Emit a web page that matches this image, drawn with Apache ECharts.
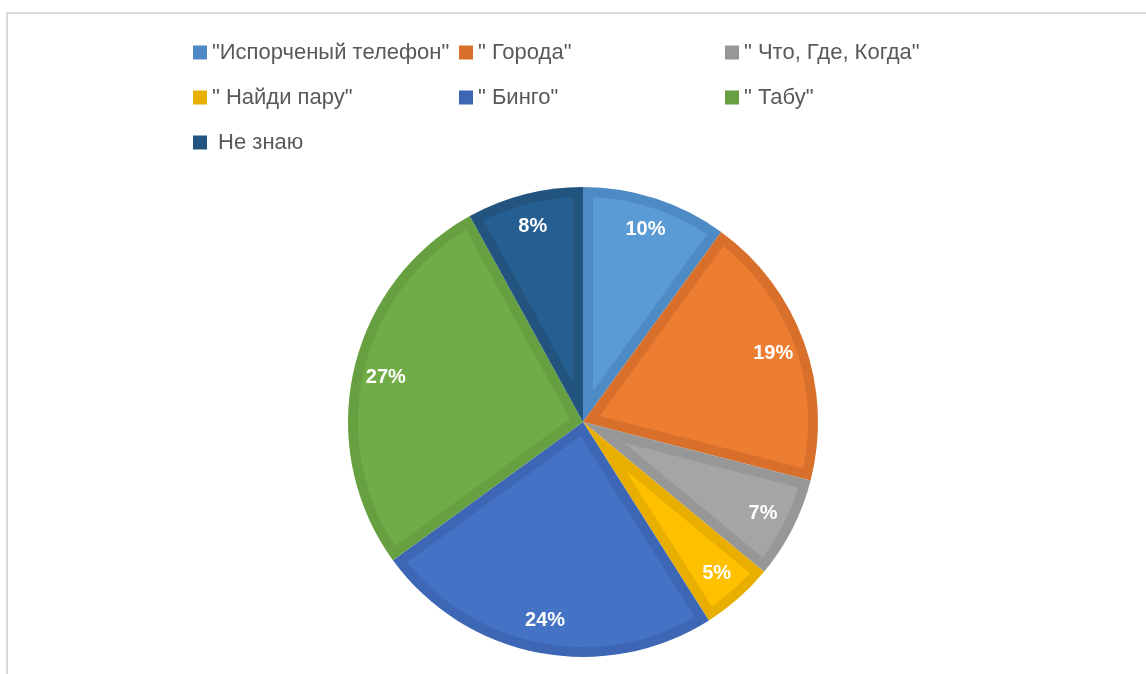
<!DOCTYPE html>
<html>
<head>
<meta charset="utf-8">
<script src="https://cdn.jsdelivr.net/npm/echarts@6/dist/echarts.min.js"></script>
<style>
  html, body { margin: 0; padding: 0; background: #ffffff; }
  #frame { position: absolute; left: 6px; top: 12px; width: 1200px; height: 700px;
           border-left: 2px solid #d9d9d9; border-top: 2px solid #d9d9d9; }
  #chart { position: absolute; left: 0; top: 0; width: 1146px; height: 674px; }
</style>
</head>
<body>
<div id="frame"></div>
<div id="chart"></div>
<script>
// Survey answers: which game the class liked most
const categories = ['"Испорченый телефон"', '" Города"', '" Что, Где, Когда"', '" Найди пару"', '" Бинго"', '" Табу"', ' Не знаю'];
const shares = [10, 19, 7, 5, 24, 27, 8];
const fillColors = ['#5B9BD5', '#ED7D31', '#A5A5A5', '#FFC000', '#4472C4', '#70AD47', '#255E91'];
const edgeColors = ['#4E8AC3', '#D8702B', '#979797', '#E8AE00', '#3D67B4', '#66A040', '#22547F'];

const total = shares.reduce((a, b) => a + b, 0);
const spans = [];
let acc = 0;
shares.forEach((v, i) => { spans.push([acc, acc + v, 1, v, i]); acc += v; });

const BAND = 10; // width of the darker rim drawn inside each slice

function renderSlice(params, api) {
  const cs = params.coordSys;
  const cx = cs.cx, cy = cs.cy, R = cs.r;
  const i = api.value(4);
  const p0 = api.coord([1, api.value(0)]);
  const p1 = api.coord([1, api.value(1)]);
  let a0 = Math.atan2(p0[1] - cy, p0[0] - cx);
  let a1 = Math.atan2(p1[1] - cy, p1[0] - cx);
  while (a1 <= a0 + 1e-9) a1 += Math.PI * 2;
  const th = a1 - a0;
  const am = (a0 + a1) / 2;
  const d = BAND / Math.sin(th / 2);
  const rho = R - BAND;
  const da = Math.asin(BAND / rho);
  const pts = [[cx + d * Math.cos(am), cy + d * Math.sin(am)]];
  const n = 60;
  for (let k = 0; k <= n; k++) {
    const a = a0 + da + (th - 2 * da) * k / n;
    pts.push([cx + rho * Math.cos(a), cy + rho * Math.sin(a)]);
  }
  const lp = api.coord([0.86, (api.value(0) + api.value(1)) / 2]);
  return {
    type: 'group',
    children: [
      { type: 'polygon', shape: { points: pts }, style: { fill: fillColors[i] } },
      { type: 'text', x: lp[0], y: lp[1],
        style: { text: Math.round(api.value(3) / total * 100) + '%', fill: '#ffffff',
                 font: 'bold 20px "Liberation Sans", Arial, sans-serif',
                 align: 'center', verticalAlign: 'middle' } }
    ]
  };
}

const chart = echarts.init(document.getElementById('chart'), null, { renderer: 'canvas' });
chart.setOption({
  animation: false,
  legend: {
    left: 193, top: 33, width: 820, padding: 0,
    itemWidth: 14, itemHeight: 14, itemGap: 6, icon: 'rect',
    selectedMode: false,
    data: categories.map((c, i) => ({ name: c, itemStyle: { color: edgeColors[i] } })),
    textStyle: { color: '#595959', fontSize: 22, fontFamily: '"Liberation Sans", Arial, sans-serif',
                 width: 241, lineHeight: 39 }
  },
  polar: { center: [583, 422], radius: 235 },
  angleAxis: { type: 'value', min: 0, max: total, startAngle: 90, clockwise: true, show: false },
  radiusAxis: { type: 'value', min: 0, max: 1, show: false },
  series: [
    {
      type: 'pie', center: [583, 422], radius: 235, startAngle: 90, clockwise: true,
      silent: true, label: { show: false }, labelLine: { show: false },
      emphasis: { disabled: true },
      data: categories.map((c, i) => ({ name: c, value: shares[i], itemStyle: { color: edgeColors[i] } }))
    },
    {
      type: 'custom', coordinateSystem: 'polar', z: 3, silent: true,
      encode: { angle: [0, 1], radius: 2 },
      renderItem: renderSlice,
      data: spans
    }
  ]
});
</script>
</body>
</html>
